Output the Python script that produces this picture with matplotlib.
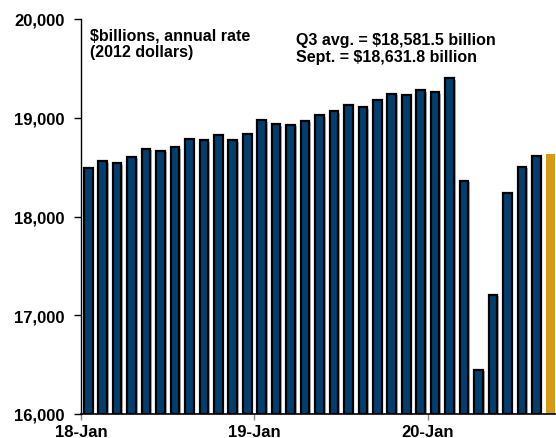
import numpy as np
import matplotlib.pyplot as plt
import matplotlib.patheffects as pe

plt.rcParams['font.family'] = ['Liberation Sans', 'DejaVu Sans']
plt.rcParams['font.weight'] = 'bold'

# Monthly real GDP, Jan 2018 - Sep 2020 ($billions, annual rate, 2012 dollars)
months = np.arange(33)
gdp = [18488, 18559, 18542, 18606, 18687, 18667, 18700, 18781, 18772, 18829,
       18775, 18832, 18977, 18937, 18930, 18970, 19025, 19065, 19129, 19106,
       19183, 19244, 19234, 19281, 19258, 19403, 18363, 16449, 17208, 18238,
       18504, 18613, 18631.8]
tick_pos = [0, 12, 24]
tick_labels = ['18-Jan', '19-Jan', '20-Jan']
yticks = [16000, 17000, 18000, 19000, 20000]

navy = '#003F70'
gold = '#D49A18'

fig = plt.figure(figsize=(5.56, 4.39), dpi=100)
# axes runs a little past the right edge, so the last bar gets clipped
ax = fig.add_axes([81 / 556, 24 / 439, 477 / 556, 395 / 439])

colors = [navy] * (len(gdp) - 1) + [gold]
edges = ['black'] * (len(gdp) - 1) + ['none']
shadow = [pe.SimplePatchShadow(offset=(1.2, -1.2), shadow_rgbFace='#9a9a9a', alpha=0.8), pe.Normal()]
bars = ax.bar(months + 0.5, np.array(gdp) - 16000, bottom=16000, width=0.6,
              color=colors, edgecolor=edges, linewidth=1.6)
for b in bars[:-1]:
    b.set_path_effects(shadow)

ax.set_xlim(0, 33)
ax.set_ylim(16000, 20000)
ax.set_yticks(yticks)
ax.set_yticklabels([f'{v:,}' for v in yticks], fontsize=12, fontweight='bold')
ax.set_xticks(tick_pos)
ax.set_xticklabels(tick_labels, fontsize=12, fontweight='bold')
ax.tick_params(axis='y', length=5, width=1, direction='out', pad=7)
ax.tick_params(axis='x', length=4, width=1, color='#888888', direction='out', pad=3)

for s in ['top', 'right']:
    ax.spines[s].set_visible(False)
ax.spines['left'].set_linewidth(1)
ax.spines['bottom'].set_linewidth(1.2)

ax.text(90 / 556, 1 - 44.5 / 439, '$billions, annual rate\n(2012 dollars)',
        transform=fig.transFigure, fontsize=11.5, fontweight='bold',
        va='center', ha='left', linespacing=1.1)
ax.text(296 / 556, 1 - 49 / 439, 'Q3 avg. = $18,581.5 billion\nSept. = $18,631.8 billion',
        transform=fig.transFigure, fontsize=11.5, fontweight='bold',
        va='center', ha='left', linespacing=1.1)

fig.savefig('out.png', dpi=100)
